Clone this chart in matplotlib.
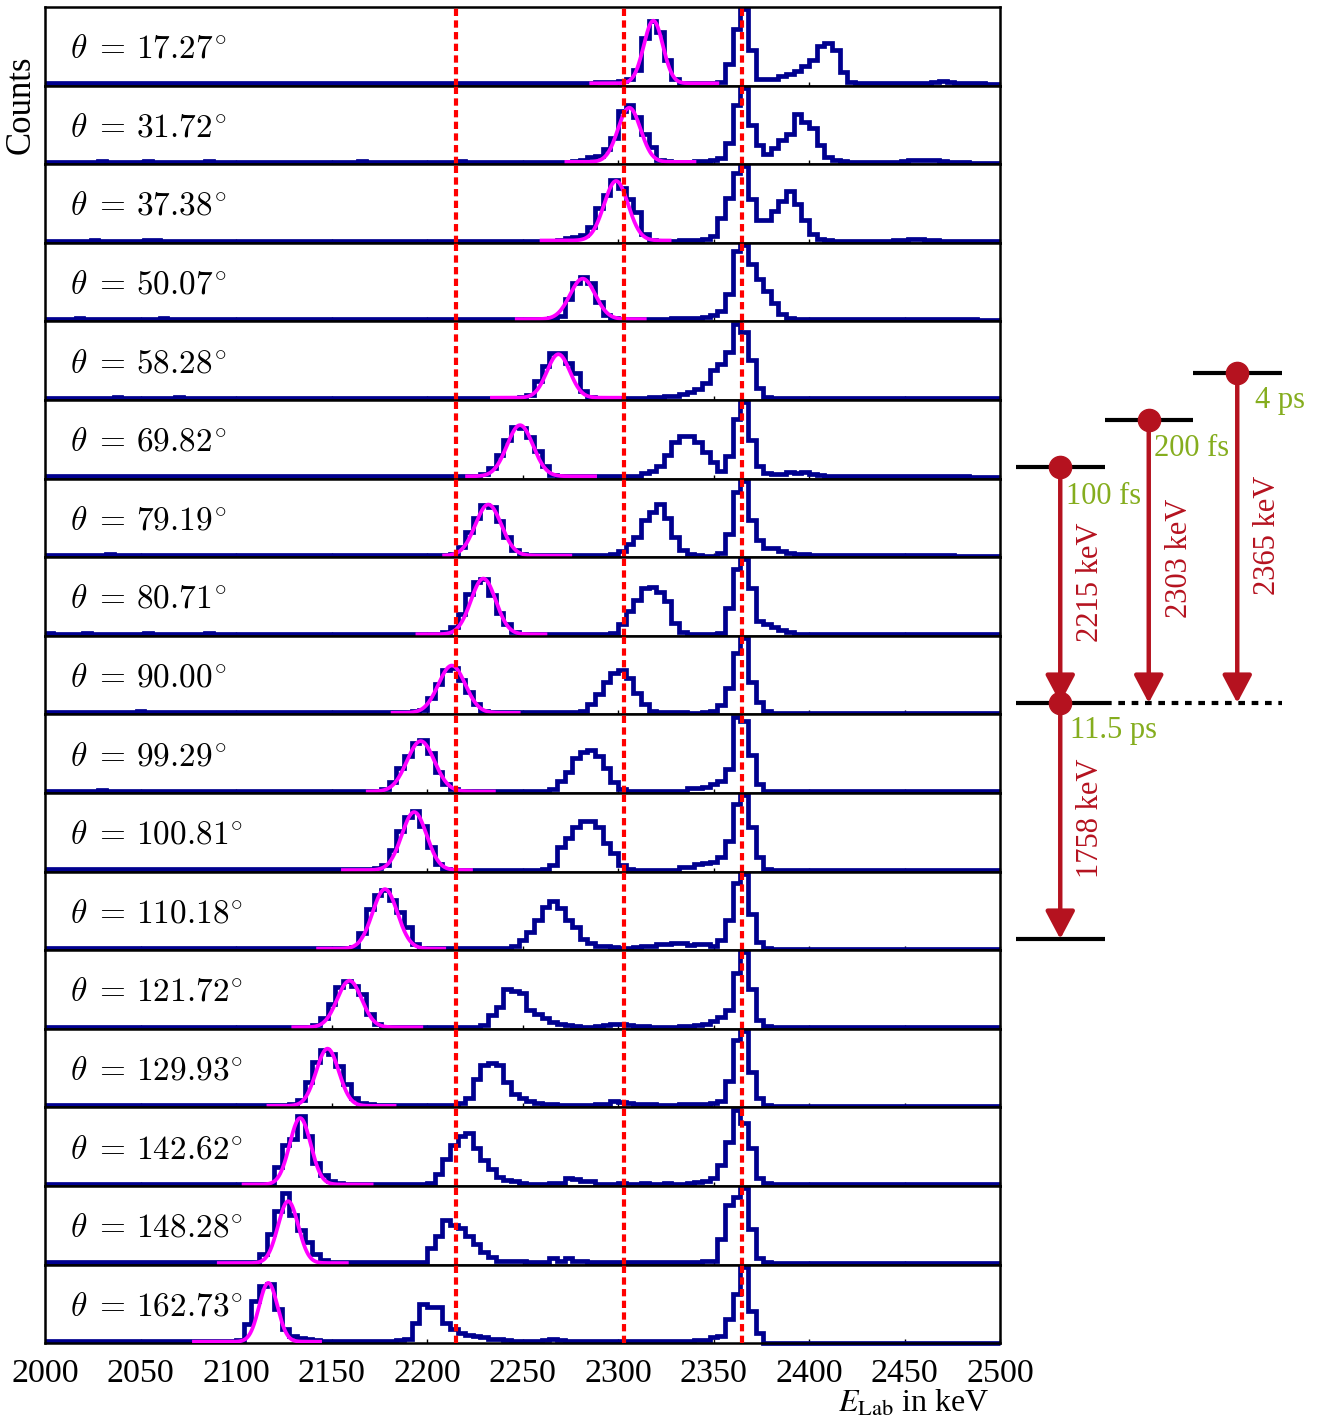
import numpy as np
import matplotlib
matplotlib.use("Agg")
import matplotlib.pyplot as plt

plt.rcParams["font.family"] = ["Liberation Serif", "DejaVu Serif"]

# ---------------------------------------------------------------------------
# Spectra: counts per 4 keV bin from 2000 to 2500 keV, scaled so that the
# strongest peak of every detector angle is 100.
# ---------------------------------------------------------------------------
bin_lo, bin_hi, bin_w = 2000, 2500, 4
edges = np.arange(bin_lo, bin_hi + bin_w, bin_w)

angles = ["17.27", "31.72", "37.38", "50.07", "58.28", "69.82", "79.19",
          "80.71", "90.00", "99.29", "100.81", "110.18", "121.72", "129.93",
          "142.62", "148.28", "162.73"]

counts_17 = ([3,3,3,3,3,3,4,3,3,3,3,4,3,3,3,3,3,4,4,3,3,3,3,4,4]
             + [3,3,3,3,3,3,4,3,3,3,3,3,3,3,3,3,3,3,3,4,3,3,3,3,3]
             + [3,3,3,3,3,3,3,3,3,3,3,3,3,4,3,3,3,4,4,3,4,4,5,5,5]
             + [6,9,20,62,85,70,34,8,4,3,3,3,4,5,28,74,100,47,9,9,9,12,15,19,26]
             + [33,52,56,46,18,5,3,3,3,3,3,3,3,3,4,4,5,6,5,4,3,3,3,2,2])
counts_31 = ([3,3,3,3,3,3,3,4,3,3,3,3,3,4,3,3,3,3,3,3,3,4,3,3,3]
             + [3,3,3,3,3,3,3,3,3,3,3,3,3,3,3,3,4,3,3,3,3,3,3,3,3]
             + [3,3,3,3,4,3,3,3,3,3,3,3,3,3,3,3,3,3,3,4,5,10,11,20,34]
             + [70,78,62,40,22,6,4,3,3,3,4,4,5,8,28,78,100,51,25,14,21,32,40,66,55]
             + [47,25,9,5,4,3,3,3,3,3,3,3,4,5,5,5,5,4,3,3,3,2,2,2,2])
counts_37 = ([3,3,3,3,3,3,4,3,3,3,3,3,3,4,4,3,3,3,3,3,3,3,3,3,3]
             + [3,3,3,3,3,3,3,3,3,3,3,3,3,3,3,3,3,3,3,3,3,3,3,3,3]
             + [3,3,3,3,3,3,3,3,3,3,3,3,3,3,3,3,3,4,6,8,10,21,45,62,82]
             + [72,58,40,12,4,3,3,3,4,4,4,5,9,32,59,92,100,57,30,30,42,55,68,51,30]
             + [11,5,4,3,3,3,3,3,3,3,3,4,4,5,5,4,4,3,3,3,3,2,2,2,2])
counts_50 = ([3,3,3,3,4,3,3,3,3,3,3,3,3,3,3,4,3,3,3,3,3,3,3,3,3]
             + [3,3,3,3,3,3,3,3,3,3,3,3,3,3,3,3,3,3,3,3,3,3,3,3,3]
             + [3,3,3,3,3,3,3,3,3,3,3,3,3,3,3,3,5,7,30,50,58,50,26,8,4]
             + [3,3,3,3,3,3,3,4,4,4,5,6,8,14,36,92,100,75,56,40,24,10,5,3,3]
             + [3,3,3,3,3,3,3,3,3,3,3,3,3,3,3,3,3,3,3,3,3,3,2,2,2])
counts_58 = ([3,3,3,3,3,3,3,3,3,4,3,3,3,3,3,3,3,4,3,3,3,3,3,3,3]
             + [3,3,3,3,3,3,3,3,3,3,3,3,3,3,3,3,3,3,3,3,3,3,3,3,3]
             + [3,3,3,3,3,3,3,3,3,3,3,3,4,6,25,44,61,61,48,35,12,4,3,3,3]
             + [3,3,3,3,4,4,5,5,8,11,14,22,39,47,63,100,89,52,16,4,3,3,3,3,3]
             + [3,3,3,3,3,3,3,3,3,3,3,3,3,3,3,3,3,3,3,3,2,2,2,2,2])
counts_69 = ([3,3,3,3,3,4,3,3,3,3,3,3,3,3,3,3,3,3,3,3,3,3,3,3,3]
             + [3,3,3,3,3,3,3,3,3,3,3,3,3,3,3,3,3,3,3,3,3,3,3,3,3]
             + [3,3,3,3,3,3,4,6,14,31,50,68,66,54,36,16,5,3,3,3,3,3,3,3,3]
             + [3,3,4,7,10,16,31,48,56,56,48,35,22,10,29,78,100,50,16,7,6,6,8,7,8]
             + [6,5,4,3,3,3,3,3,3,3,3,3,3,3,3,3,3,3,3,3,3,2,2,2,2])
counts_79 = ([3,3,3,3,3,3,3,3,4,3,3,3,3,3,3,3,3,3,3,3,3,3,3,3,3]
             + [3,3,3,3,3,3,3,3,3,3,3,3,3,3,3,3,3,3,3,3,3,3,3,3,3]
             + [3,3,3,4,14,33,52,68,66,48,27,10,4,3,3,3,3,3,3,3,3,3,3,3,4]
             + [8,17,27,49,59,70,52,27,10,4,3,2,2,6,31,86,100,49,23,12,12,8,5,4,4]
             + [3,3,3,3,3,3,3,3,3,3,3,3,3,3,3,3,3,3,3,2,2,2,2,2,2])
counts_80 = ([4,3,3,3,3,4,3,3,3,3,3,3,3,4,3,3,3,3,3,3,3,4,3,3,3]
             + [3,3,3,3,3,3,3,3,3,3,3,3,3,3,3,3,3,3,3,3,3,3,3,3,3]
             + [3,3,5,11,28,55,70,75,53,30,15,5,3,3,3,3,3,3,3,3,3,3,3,3,4]
             + [16,32,47,62,64,57,45,17,5,3,2,2,3,4,36,88,100,62,19,15,11,8,5,3,3]
             + [3,3,3,3,3,3,3,3,3,3,3,3,3,3,3,3,3,3,2,2,2,2,2,2,2])
counts_90 = ([3,3,3,3,3,3,3,3,3,3,3,3,4,3,3,3,3,3,3,3,3,3,3,3,3]
             + [3,3,3,3,3,3,3,3,3,3,3,3,3,3,3,3,3,3,3,3,3,3,3,4,6]
             + [22,40,58,61,45,30,14,4,3,3,3,3,3,3,3,3,3,3,3,3,4,14,27,42,54]
             + [58,48,28,14,5,3,3,3,3,2,2,3,5,12,35,80,100,42,16,4,2,2,2,2,2]
             + [2,2,2,2,2,2,2,2,2,2,2,2,2,2,2,2,2,2,2,2,2,2,2,2,2])
counts_99 = ([3,3,3,3,3,3,3,4,3,3,3,3,3,3,3,3,3,3,3,3,3,3,3,3,3]
             + [3,3,3,3,3,3,3,3,3,3,3,3,3,3,3,3,3,3,3,5,14,33,48,66,70]
             + [52,27,12,5,3,2,2,2,2,2,2,2,2,2,2,3,5,16,27,46,54,56,48,33,14]
             + [5,3,2,2,2,2,2,2,2,6,7,8,12,16,31,100,94,50,12,3,2,2,2,2,2]
             + [2,2,2,2,2,2,2,2,2,2,2,2,2,2,2,2,2,2,2,2,2,2,2,2,2])
counts_100 = ([3,3,3,3,3,3,3,3,3,3,3,3,3,3,3,3,3,3,3,3,3,3,3,3,3]
              + [3,3,3,4,4,3,3,3,3,3,3,3,3,3,3,3,3,3,5,9,28,53,72,80,60]
              + [32,10,4,2,2,2,2,2,2,2,2,2,2,2,2,3,8,32,44,59,66,66,59,38,25]
              + [8,3,2,2,2,2,2,2,6,6,10,11,13,19,40,89,100,59,19,4,2,2,2,2,2]
              + [2,2,2,2,2,2,2,2,2,2,2,2,2,2,2,2,2,2,2,2,2,2,2,2,2])
counts_110 = ([3,3,3,3,3,3,3,3,3,3,3,3,3,3,3,3,3,3,3,3,3,3,3,3,3]
              + [3,3,3,3,3,3,3,3,3,3,3,3,3,3,3,4,23,54,72,79,66,50,30,8,3]
              + [3,3,3,3,3,3,3,3,3,3,3,5,14,24,40,56,64,55,40,30,15,9,6,5,4]
              + [3,3,4,5,6,8,8,10,9,7,8,8,5,14,39,88,100,47,11,3,2,2,2,2,2]
              + [2,2,2,2,2,2,2,2,2,2,2,2,2,2,2,2,2,2,2,2,2,2,2,2,2])
counts_121 = ([3,3,3,3,3,3,3,3,3,3,3,3,3,3,3,3,3,3,3,3,3,3,3,3,3]
              + [3,3,3,3,3,3,3,3,3,3,5,14,33,55,62,56,45,20,6,3,3,3,3,3,3]
              + [3,3,3,3,3,3,3,5,18,28,52,50,47,25,20,14,9,6,5,4,3,3,4,5,6]
              + [6,5,4,4,3,3,3,3,4,4,5,6,10,16,24,73,100,52,11,4,2,2,2,2,2]
              + [2,2,2,2,2,2,2,2,2,2,2,2,2,2,2,2,2,2,2,2,2,2,2,2,2])
counts_129 = ([3,3,3,3,3,3,3,3,3,3,3,3,3,3,3,3,3,3,3,3,3,3,3,3,3]
              + [3,3,3,3,3,3,3,4,10,33,60,75,70,54,31,12,6,4,3,3,3,3,3,3,3]
              + [3,3,3,3,6,12,37,55,58,56,33,18,12,8,6,5,4,3,3,3,3,3,4,4,8]
              + [7,6,5,4,4,3,3,3,4,5,5,5,6,8,35,88,100,46,12,3,2,2,2,2,2]
              + [2,2,2,2,2,2,2,2,2,2,2,2,2,2,2,2,2,2,2,2,2,2,2,2,2])
counts_142 = ([3,3,3,3,3,3,3,3,3,3,3,3,3,3,3,3,3,3,3,3,3,3,3,3,3]
              + [3,3,3,3,3,25,54,62,92,66,30,15,6,4,3,3,3,3,3,3,3,3,3,3,3]
              + [4,16,35,54,65,69,50,34,22,12,8,7,4,3,3,3,4,4,10,9,7,6,3,3,3]
              + [4,3,3,4,3,3,4,3,3,4,5,6,10,27,58,100,82,50,10,4,2,2,2,2,2]
              + [2,2,2,2,2,2,2,2,2,2,2,2,2,2,2,2,2,2,2,2,2,2,2,2,2])
counts_148 = ([3,3,3,3,3,3,3,3,3,3,3,3,3,3,3,3,3,3,3,3,3,3,3,3,3]
              + [3,3,4,14,40,70,94,65,45,30,14,6,3,3,3,3,3,3,3,3,3,3,3,3,4]
              + [22,37,58,52,48,37,27,16,10,5,5,5,5,4,4,4,8,5,9,5,5,4,3,3,3]
              + [3,3,3,3,3,3,3,3,3,3,4,5,5,33,78,88,100,46,8,3,2,2,2,2,2]
              + [2,2,2,2,2,2,2,2,2,2,2,2,2,2,2,2,2,2,2,2,2,2,2,2,2])
counts_162 = ([3,3,3,3,3,3,3,3,3,3,3,3,3,3,3,3,3,3,3,3,3,3,3,3,3]
              + [4,25,55,75,78,45,18,10,7,5,4,3,3,3,3,3,3,3,3,3,3,4,6,27,51]
              + [47,47,27,19,14,11,9,8,6,5,4,3,3,3,3,4,5,4,3,3,3,3,3,3,3]
              + [3,3,3,3,3,3,3,3,3,3,4,4,8,10,32,64,100,42,14,0,0,0,0,0,0]
              + [0,0,0,0,0,0,0,0,0,0,0,0,0,0,0,0,0,0,0,0,0,0,0,0,0])

spectra = [counts_17, counts_31, counts_37, counts_50, counts_58, counts_69,
           counts_79, counts_80, counts_90, counts_99, counts_100, counts_110,
           counts_121, counts_129, counts_142, counts_148, counts_162]

# Gaussian fits of the Doppler-shifted 2215 keV line (keV and scaled counts)
fit_center = [2318.5, 2305.9, 2299.0, 2281.5, 2268.8, 2248.7, 2232.1, 2229.5,
              2213.0, 2196.7, 2193.3, 2178.0, 2159.4, 2147.9, 2133.6, 2127.3,
              2116.9]
fit_sigma = [5.0, 5.9, 6.3, 6.6, 6.0, 6.8, 6.8, 6.5, 7.0, 7.2, 6.5, 6.5,
             6.4, 5.9, 5.5, 5.3, 4.8]
fit_amp = [82, 71, 78, 53, 57, 67, 67, 73, 62, 66, 76, 78, 61, 75, 87, 81, 77]
fit_bkg = [3, 3, 3, 3, 3, 3, 2, 2, 2, 2, 2, 2, 2, 2, 2, 2, 2]
fit_lo = [2285, 2272, 2259, 2246, 2233, 2220, 2208, 2194, 2181, 2168, 2155,
          2142, 2129, 2116, 2103, 2090, 2077]
fit_hi = [2353, 2341, 2328, 2315, 2302, 2289, 2276, 2263, 2249, 2236, 2224,
          2210, 2198, 2184, 2172, 2159, 2145]

# unshifted transition energies (keV)
ref_energies = [2215, 2303, 2365]

x_ticks = [2000, 2050, 2100, 2150, 2200, 2250, 2300, 2350, 2400, 2450, 2500]

# level scheme: (height, first column, last column, line style)
levels = [(0.0, 0, 1, "-"), (1.0, 0, 1, "-"), (1.0, 1, 3, ":"),
          (2.0, 0, 1, "-"), (2.2, 1, 2, "-"), (2.4, 2, 3, "-")]
# transitions: (column, start height, end height, energy, lifetime of start)
transitions = [(0, 2.0, 1.0, "2215 keV", "100 fs"),
               (1, 2.2, 1.0, "2303 keV", "200 fs"),
               (2, 2.4, 1.0, "2365 keV", "4 ps"),
               (0, 1.0, 0.0, "1758 keV", "11.5 ps")]
lifetime_offsets = [(4, -21), (4, -21), (13, -20), (7, -20)]

NAVY = "#00008f"
MAGENTA = "#ff00ff"
RED = "#ff0000"
SCHEME_RED = "#b5121f"
SCHEME_GREEN = "#85ad1e"

W, H = 1324, 1423
fig = plt.figure(figsize=(W / 100, H / 100), dpi=100)

ax_left, ax_right = 45, 1000
top_px, panel_px = 7, 78.6
n = len(spectra)

for i, (vals, ang) in enumerate(zip(spectra, angles)):
    bottom_px = top_px + panel_px * (i + 1)
    ax = fig.add_axes([ax_left / W, 1 - bottom_px / H,
                       (ax_right - ax_left) / W, panel_px / H])
    ax.stairs(vals, edges, color=NAVY, lw=3.4, baseline=None, zorder=2,
              clip_on=False)
    e = np.linspace(fit_lo[i], fit_hi[i], 300)
    g = fit_bkg[i] + fit_amp[i] * np.exp(-0.5 * ((e - fit_center[i]) / fit_sigma[i]) ** 2)
    ax.plot(e, g, color=MAGENTA, lw=2.7, zorder=3, solid_capstyle="butt")
    for er in ref_energies:
        ax.axvline(er, color=RED, lw=3.0, ls=(0, (1.75, 1.05)), zorder=4)
    ax.set_xlim(bin_lo, bin_hi)
    ax.set_ylim(0, 103)
    ax.set_yticks([])
    ax.set_xticks(x_ticks)
    ax.tick_params(axis="x", direction="in", length=3, width=1, pad=11,
                   labelsize=24.5)
    if i < n - 1:
        ax.tick_params(axis="x", labelbottom=False)
    for sp in ax.spines.values():
        sp.set_linewidth(1.8)
    ax.text(0.026, 0.46, r"$\theta\;=\,%s^{\!\circ}$" % ang,
            transform=ax.transAxes, ha="left", va="center", fontsize=24,
            math_fontfamily="cm")

fig.text(21 / W, 1 - 105 / H, "Counts", rotation=90, ha="center", va="center",
         fontsize=25)
fig.text(990 / W, 1 - 1404 / H, r"$E_{\mathrm{Lab}}$ in keV", ha="right",
         va="center", fontsize=23, math_fontfamily="stix")

# ---------------------------------------------------------------------------
# Level scheme
# ---------------------------------------------------------------------------
sx0, sx1, sy_top, sy_bot = 1005, 1324, 330, 960
col_px, unit_px, col0_px, ground_px = 88.5, 236.0, 1016, 939
sax = fig.add_axes([sx0 / W, 1 - sy_bot / H, (sx1 - sx0) / W, (sy_bot - sy_top) / H])
sax.set_xlim((sx0 - col0_px) / col_px, (sx1 - col0_px) / col_px)
sax.set_ylim((ground_px - sy_bot) / unit_px, (ground_px - sy_top) / unit_px)
sax.axis("off")

for h, c0, c1, ls in levels:
    if ls == "-":
        sax.plot([c0, c1], [h, h], color="black", lw=3.0, solid_capstyle="butt")
    else:
        sax.plot([c0, c1], [h, h], color="black", lw=3.0, ls=(0, (1.6, 1.6)))

for (col, h0, h1, elab, tlab), (dx, dy) in zip(transitions, lifetime_offsets):
    xc = col + 0.5
    sax.annotate("", xy=(xc, h1), xytext=(xc, h0),
                 arrowprops=dict(arrowstyle="-|>,head_length=0.85,head_width=0.45",
                                 color=SCHEME_RED, lw=3.2, mutation_scale=20,
                                 shrinkA=0, shrinkB=0), zorder=3)
    sax.plot([xc], [h0], "o", ms=16, color=SCHEME_RED, zorder=5)
    sax.annotate(tlab, xy=(xc, h0), xytext=(dx, dy), textcoords="offset points",
                 ha="left", va="center", color=SCHEME_GREEN, fontsize=22)
    sax.annotate(elab, xy=(xc, 0.5 * (h0 + h1)), xytext=(22, 2),
                 textcoords="offset points", rotation=90, ha="center",
                 va="center", color=SCHEME_RED, fontsize=22)

fig.savefig("out.png", dpi=100)
